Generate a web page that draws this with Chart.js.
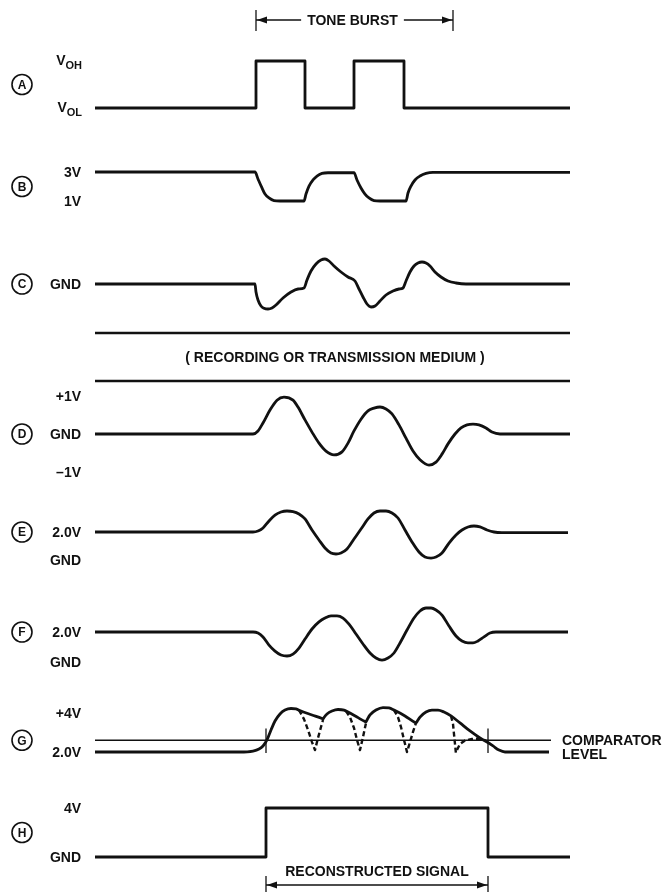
<!DOCTYPE html>
<html><head><meta charset="utf-8">
<script src="https://cdn.jsdelivr.net/npm/chart.js@4.4.1/dist/chart.umd.min.js"></script>
<style>html,body{margin:0;padding:0;background:#fff}#wrap{width:663px;height:892px;position:relative}</style>
</head><body><div id="wrap"><canvas id="c"></canvas></div>
<script>
// ---------- DATA (time units along x, signal values per trace) ----------
const toneBurst = [256, 453];
const reconstructed = [266, 488];
const mediumSpan = [95, 570];

// A: logic output (0 = VOL, 1 = VOH)
const tA = [95,256,256,305,305,354,354,404,404,570];
const vA = [0,0,1,1,0,0,1,1,0,0];
const ticksA = ['V|OH','V|OL'];
const levelsA = [1,0];

// B: volts
const tB = [95,255,258,262,265,269,274,280,304,306,309,313,317,322,328,354,357,361,365,369,374,380,406,408,411,415,420,426,433,570];
const vB = [3.0,3.0,2.52,1.90,1.48,1.21,1.03,1.0,1.0,1.48,2.03,2.45,2.72,2.90,2.95,2.95,2.45,1.90,1.48,1.21,1.03,1.0,1.0,1.55,2.03,2.45,2.72,2.90,2.97,2.97];
const ticksB = ['3V','1V'];
const levelsB = [3,1];

// C: relative units around GND
const tC = [95,255,256,258,261,264,268,272,276,283,291,298,304,307,311,316,321,325,329,334,341,348,355,359,363,367,371,375,380,386,393,399,403,406,410,414,418,422,426,430,435,441,448,456,466,570];
const vC = [0,0,-0.32,-0.64,-0.88,-0.97,-1.0,-0.96,-0.84,-0.56,-0.32,-0.2,-0.16,0.16,0.52,0.8,0.96,1.0,0.92,0.72,0.48,0.28,0.12,-0.2,-0.52,-0.8,-0.92,-0.88,-0.68,-0.44,-0.28,-0.2,-0.16,0.12,0.48,0.72,0.84,0.88,0.84,0.72,0.48,0.28,0.12,0.04,0,0];
const ticksC = ['GND'];
const levelsC = [0];

// D: volts
const tD = [95,253,258,263,270,277,284,293,298,305,312,319,326,334,342,348,354,361,368,374,380,386,392,399,406,413,420,429,436,442,448,455,461,467,473,479,486,492,500,570];
const vD = [0,0,0.08,0.29,0.63,0.89,0.97,0.89,0.71,0.37,0.05,-0.24,-0.45,-0.55,-0.47,-0.24,0.08,0.39,0.61,0.68,0.71,0.66,0.53,0.24,-0.11,-0.45,-0.68,-0.82,-0.74,-0.53,-0.26,0,0.16,0.24,0.26,0.24,0.16,0.05,0,0];
const ticksD = ['+1V','GND','\u20131V'];
const levelsD = [1,0,-1];

// E: volts
const tE = [95,253,258,263,269,275,281,287,293,299,305,312,319,325,331,336,341,347,354,361,368,374,380,386,392,398,405,412,419,425,431,436,442,449,456,462,468,474,480,487,494,502,568];
const vE = [2.0,2.0,2.07,2.29,2.79,3.21,3.43,3.5,3.46,3.29,2.93,2.14,1.43,0.86,0.5,0.43,0.5,0.79,1.5,2.21,2.93,3.36,3.5,3.5,3.36,3.0,2.14,1.29,0.57,0.21,0.14,0.21,0.5,1.21,1.79,2.14,2.36,2.43,2.36,2.14,2.0,1.96,1.96];
const ticksE = ['2.0V','GND'];
const levelsE = [2,0];

// F: volts
const tF = [95,253,258,263,269,275,281,287,293,299,305,312,319,325,331,337,343,349,356,363,370,376,382,388,394,400,407,414,420,426,431,436,442,449,456,462,468,473,478,484,490,496,568];
const vF = [2,2,1.93,1.67,1.13,0.73,0.47,0.4,0.53,0.93,1.53,2.2,2.67,2.93,3.07,3.07,2.93,2.53,1.87,1.2,0.6,0.27,0.13,0.27,0.6,1.27,2.13,2.93,3.4,3.6,3.6,3.47,3.13,2.4,1.73,1.4,1.27,1.27,1.4,1.67,1.93,2,2];
const ticksF = ['2.0V','GND'];
const levelsF = [2,0];

// G: volts (solid envelope)
const tG = [95,240,253,259,263,267,271,275,280,285,291,296,301,312,322,323,324,327,332,338,344,348,357,365,366,367,370,376,383,389,394,405,415,416,417,420,426,432,438,444,451,460,470,480,487,493,499,505,549];
const vG = [2.0,2.0,2.05,2.15,2.31,2.62,3.13,3.59,3.95,4.15,4.23,4.21,4.1,3.9,3.72,3.69,3.77,3.95,4.1,4.18,4.15,4.05,3.79,3.56,3.54,3.64,3.9,4.15,4.28,4.26,4.15,3.85,3.51,3.49,3.56,3.79,4.05,4.15,4.15,4.05,3.85,3.49,3.08,2.72,2.51,2.31,2.1,2.0,2.0];
// G: dashed rectified half-waves
const tG1 = [299,304,308,312,315,318,321,323];
const vG1 = [4.15,3.69,3.13,2.51,2.1,2.72,3.28,3.64];
const tG2 = [346,350,354,357,360,363,366];
const vG2 = [4.1,3.79,3.23,2.62,2.1,2.77,3.49];
const tG3 = [394,398,401,404,407,410,413,416];
const vG3 = [4.15,3.79,3.28,2.62,2.0,2.51,3.03,3.49];
const tG4 = [451,453,454,455,456];
const vG4 = [3.85,3.44,2.92,2.41,1.9];
const tG5 = [457,460,465,472,480,487];
const vG5 = [2.1,2.41,2.59,2.67,2.69,2.56];
const comparatorLevel = 2.6;
const comparatorSpan = [95, 551];
const crossMarkRange = [1.95, 3.2];
const ticksG = ['+4V','2.0V'];
const levelsG = [4,2];

// H: volts
const tH = [95,266,266,488,488,570];
const vH = [0,0,4,4,0,0];
const ticksH = ['4V','GND'];
const levelsH = [4,0];

const circleLevels = [0.5, 2, 0, 0, 2, 2, 2.6, 2];

// ---------- LAYOUT (row placement on the sheet) ----------
const rows = {
  A:{base:108,k:47}, B:{base:215.5,k:14.5}, C:{base:284,k:25}, D:{base:434,k:38},
  E:{base:560,k:14}, F:{base:662,k:15}, G:{base:791,k:19.5}, H:{base:857,k:12.25}
};
const mediumRows = [333, 381];
const FONT = '"Liberation Sans", Arial, sans-serif';
const INK = '#111';

function pts(r, t, v){ return t.map((x,i)=>({x:x, y:rows[r].base - v[i]*rows[r].k})); }
function wave(r, t, v, smooth){
  return {data:pts(r,t,v), borderColor:INK, borderWidth:2.8, pointRadius:0, fill:false,
    tension: smooth ? 0.4 : 0, cubicInterpolationMode: smooth ? 'monotone' : 'default',
    borderJoinStyle:'round', borderCapStyle:'butt'};
}
function dashed(t, v){
  const d = wave('G', t, v, false); d.borderDash=[5,3]; d.borderWidth=2.4; return d;
}
function plain(data, w){
  return {data:data, borderColor:INK, borderWidth:w, pointRadius:0, fill:false, tension:0};
}

const datasets = [
  wave('A', tA, vA, false),
  wave('B', tB, vB, true),
  wave('C', tC, vC, true),
  plain([{x:mediumSpan[0],y:mediumRows[0]},{x:mediumSpan[1],y:mediumRows[0]}], 2.6),
  plain([{x:mediumSpan[0],y:mediumRows[1]},{x:mediumSpan[1],y:mediumRows[1]}], 2.6),
  wave('D', tD, vD, true),
  wave('E', tE, vE, true),
  wave('F', tF, vF, true),
  plain(pts('G', comparatorSpan, [comparatorLevel, comparatorLevel]), 1.5),
  plain(pts('G', [reconstructed[0],reconstructed[0]], crossMarkRange), 1.3),
  plain(pts('G', [reconstructed[1],reconstructed[1]], crossMarkRange), 1.3),
  wave('G', tG, vG, true),
  dashed(tG1, vG1), dashed(tG2, vG2), dashed(tG3, vG3), dashed(tG4, vG4), dashed(tG5, vG5),
  wave('H', tH, vH, false)
];

const allTicks = {A:[ticksA,levelsA],B:[ticksB,levelsB],C:[ticksC,levelsC],D:[ticksD,levelsD],
  E:[ticksE,levelsE],F:[ticksF,levelsF],G:[ticksG,levelsG],H:[ticksH,levelsH]};

function arrowHead(ctx, x, y, dir){
  ctx.beginPath();
  ctx.moveTo(x, y);
  ctx.lineTo(x - dir*10, y - 3.5);
  ctx.lineTo(x - dir*10, y + 3.5);
  ctx.closePath(); ctx.fill();
}

const decor = {
  id:'decor',
  afterDatasetsDraw(chart){
    const ctx = chart.ctx, xs = chart.scales.x, ys = chart.scales.y;
    const X = v => xs.getPixelForValue(v), Y = v => ys.getPixelForValue(v);
    const rowY = (r, v) => Y(rows[r].base - v*rows[r].k);
    ctx.save();
    ctx.fillStyle = INK; ctx.strokeStyle = INK;

    // Tone burst bracket
    const tbY = Y(20);
    ctx.lineWidth = 1.3;
    [toneBurst[0], toneBurst[1]].forEach(t=>{ ctx.beginPath(); ctx.moveTo(X(t), Y(10)); ctx.lineTo(X(t), Y(31)); ctx.stroke(); });
    ctx.font = 'bold 14px ' + FONT; ctx.textAlign='center'; ctx.textBaseline='middle';
    const tbMid = (X(toneBurst[0]) + X(toneBurst[1]))/2 - 2;
    const tbW = ctx.measureText('TONE BURST').width;
    ctx.fillText('TONE BURST', tbMid, tbY + 1);
    ctx.beginPath(); ctx.moveTo(X(toneBurst[0]), tbY); ctx.lineTo(tbMid - tbW/2 - 6, tbY); ctx.stroke();
    ctx.beginPath(); ctx.moveTo(tbMid + tbW/2 + 6, tbY); ctx.lineTo(X(toneBurst[1]), tbY); ctx.stroke();
    arrowHead(ctx, X(toneBurst[0]) + 1, tbY, -1);
    arrowHead(ctx, X(toneBurst[1]) - 1, tbY, 1);

    // channel tick labels
    ctx.textAlign = 'right'; ctx.textBaseline = 'middle';
    const rightX = 81;
    Object.keys(allTicks).forEach(r=>{
      const [txt, lv] = allTicks[r];
      txt.forEach((s,i)=>{
        const y = rowY(r, lv[i]) + 1.5;
        if (s.indexOf('|')>=0){
          const [main, sub] = s.split('|');
          ctx.font = 'bold 11px ' + FONT;
          const sw = ctx.measureText(sub).width;
          ctx.fillText(sub, rightX + 1, y + 3);
          ctx.font = 'bold 14px ' + FONT;
          ctx.fillText(main, rightX + 1 - sw, y - 1);
        } else {
          ctx.font = 'bold 14px ' + FONT;
          ctx.fillText(s, rightX, y);
        }
      });
    });

    // circled letters
    Object.keys(rows).forEach((r,i)=>{
      const cy = rowY(r, circleLevels[i]);
      ctx.lineWidth = 1.6;
      ctx.beginPath(); ctx.arc(22, cy, 10, 0, Math.PI*2); ctx.stroke();
      ctx.font = 'bold 12px ' + FONT; ctx.textAlign='center';
      ctx.fillText(r, 22, cy + 1);
      ctx.textAlign='right';
    });

    // medium caption
    ctx.font = 'bold 14px ' + FONT; ctx.textAlign = 'center';
    ctx.fillText('( RECORDING OR TRANSMISSION MEDIUM )', X(335), (Y(mediumRows[0])+Y(mediumRows[1]))/2 + 1);

    // comparator caption
    ctx.textAlign = 'left';
    const cy = rowY('G', comparatorLevel);
    ctx.fillText('COMPARATOR', X(comparatorSpan[1]) + 11, cy + 1);
    ctx.fillText('LEVEL', X(comparatorSpan[1]) + 11, cy + 15);

    // reconstructed signal bracket
    ctx.textAlign = 'center';
    const rMid = (X(reconstructed[0]) + X(reconstructed[1]))/2;
    ctx.fillText('RECONSTRUCTED SIGNAL', rMid, Y(872));
    const ay = Y(885);
    ctx.lineWidth = 1.3;
    ctx.beginPath(); ctx.moveTo(X(reconstructed[0]), ay); ctx.lineTo(X(reconstructed[1]), ay); ctx.stroke();
    [reconstructed[0], reconstructed[1]].forEach(t=>{ ctx.beginPath(); ctx.moveTo(X(t), Y(876)); ctx.lineTo(X(t), Y(892)); ctx.stroke(); });
    arrowHead(ctx, X(reconstructed[0]) + 1, ay, -1);
    arrowHead(ctx, X(reconstructed[1]) - 1, ay, 1);
    ctx.restore();
  }
};

new Chart(document.getElementById('c'), {
  type:'line',
  data:{datasets:datasets},
  options:{
    responsive:true, maintainAspectRatio:false, animation:false,
    layout:{padding:0},
    plugins:{legend:{display:false}, tooltip:{enabled:false}},
    events:[],
    scales:{
      x:{type:'linear', min:0, max:663, display:false},
      y:{type:'linear', min:0, max:892, reverse:true, display:false}
    }
  },
  plugins:[decor]
});
</script></body></html>
